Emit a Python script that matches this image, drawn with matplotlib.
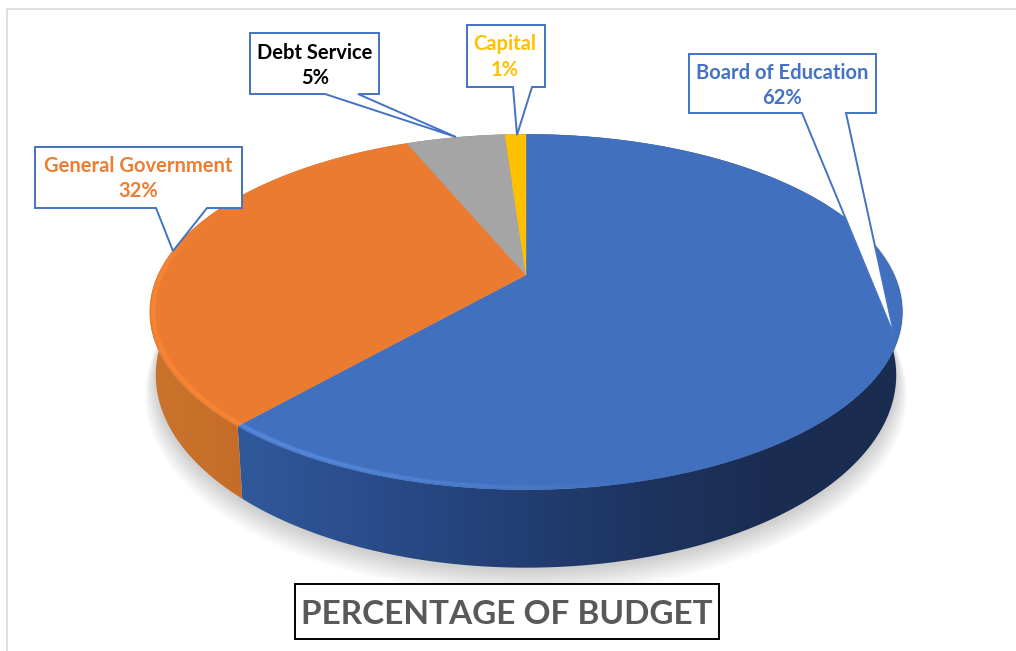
import numpy as np
import matplotlib
matplotlib.use('Agg')
import matplotlib.pyplot as plt
from matplotlib.collections import LineCollection
from matplotlib.colors import LinearSegmentedColormap, to_rgb
from matplotlib.patches import Polygon

plt.rcParams['font.family'] = ['Lato', 'DejaVu Sans']

# chart values, clockwise from the top
categories = ['Board of Education', 'General Government', 'Debt Service', 'Capital']
shares = [61.5, 32.2, 5.2, 1.1]
chart_title = 'PERCENTAGE OF BUDGET'

top_colors = ['#4170BF', '#EB7B30', '#A5A5A5', '#FFC000']
side_colors = [['#30599C', '#2A4C8A', '#233F75', '#1E3562', '#1A2C50', '#1A2C50'],
               ['#CA732C', '#BC6322'],
               ['#6E6E6E', '#6E6E6E'],
               ['#AA8000', '#AA8000']]
label_colors = ['#4472C4', '#ED7D31', '#000000', '#FFC000']

# layout in pixels: box left, top, right, bottom, tail base left/right, tail tip
callouts = [(689, 54, 876, 113, 802, 846, 895, 338),
            (35, 147, 242, 208, 156, 207, 173, 251),
            (250, 33, 379, 94, 325, 358, 456, 137),
            (467, 25, 545, 87, 513, 532, 517, 135)]
label_pos = [(782, 73, 98), (138, 166, 191), (315, 53, 78), (505, 44, 70)]

# perspective of the disc
CX, CY = 526, 275
A, B, K = 368, 170, 0.208
DEPTH, BOTTOM_X, BOTTOM_Y = 60, 0.984, 1.084


def project(t, r=1.0, drop=0, sx=1.0, sy=1.0):
    x = r * np.sin(t)
    y = r * np.cos(t)
    d = 1 + K * y
    return CX + A * sx * x / d, CY + drop - B * sy * y / d


fig = plt.figure(figsize=(10.16, 6.51), dpi=100)
ax = fig.add_axes([0, 0, 1, 1])
ax.set_xlim(0, 1016)
ax.set_ylim(651, 0)
ax.axis('off')

# frame, only left and top show
ax.plot([7, 7, 1016], [651, 9, 9], color='#D9D9D9', lw=1.2, zorder=1)

# soft shadow under the disc
full = np.linspace(0, 2 * np.pi, 361)
for i in range(16):
    grow = 1.0 + 0.002 * (15 - i)
    shx, shy = project(full, drop=DEPTH + 3 + 1.1 * (15 - i), sx=BOTTOM_X * grow, sy=BOTTOM_Y * grow)
    ax.fill(shx, shy, color='#000000', alpha=0.012, lw=0, zorder=2)

edges = np.radians(np.cumsum([0] + shares) * 3.6)

# side wall with a left to right gradient
for i in range(len(shares)):
    t = np.linspace(edges[i], edges[i + 1], 300)
    x_top, y_top = project(t)
    x_bot, y_bot = project(t, drop=DEPTH, sx=BOTTOM_X, sy=BOTTOM_Y)
    px = np.r_[x_top, x_bot[::-1]]
    py = np.r_[y_top, y_bot[::-1]]
    cmap = LinearSegmentedColormap.from_list('side', side_colors[i])
    img = ax.imshow(np.linspace(0, 1, 256)[None, :], cmap=cmap, aspect='auto',
                    extent=(px.min(), px.max(), py.max(), py.min()), zorder=3)
    img.set_clip_path(Polygon(np.c_[px, py], transform=ax.transData))
ax.set_xlim(0, 1016)
ax.set_ylim(651, 0)

# soft dark edge where top meets the wall on the right
for lw, al in [(3, 0.25), (1.6, 0.35)]:
    t = np.radians(np.linspace(72, 170, 200))
    ex, ey = project(t, r=0.997)
    ax.plot(ex, ey, color='#1A2C50', lw=lw, alpha=al, zorder=3.5)

# top of the disc
for i in range(len(shares)):
    t = np.linspace(edges[i], edges[i + 1], 300)
    x_top, y_top = project(t)
    ax.fill(np.r_[CX, x_top], np.r_[CY, y_top], color=top_colors[i], lw=0.3, zorder=4)

# bevel highlight along the front rim, a wide faint stroke under a narrow one
rim_t = np.radians(np.linspace(95, 292, 500))
rx, ry = project(rim_t, r=0.991)
pts = np.c_[rx, ry]
segs = np.stack([pts[:-1], pts[1:]], axis=1)
mid = np.degrees((rim_t[:-1] + rim_t[1:]) / 2)
split = np.degrees(edges[1])
for lw, strength in [(3.6, 0.35), (1.8, 0.5)]:
    rgba = np.zeros((len(mid), 4))
    for j, m in enumerate(mid):
        if m < split:
            rgba[j, :3] = to_rgb('#5F95EC')
            rgba[j, 3] = np.clip((m - 165) / 45, 0, 1) * strength
        else:
            rgba[j, :3] = to_rgb('#FF8C36')
            rgba[j, 3] = np.clip((292 - m) / 20, 0, 1) * strength
    ax.add_collection(LineCollection(segs, colors=rgba, linewidths=lw, zorder=5))

# callouts
for c, (lx, y1, y2), name, val, col in zip(callouts, label_pos, categories, shares, label_colors):
    x0, y0, x3, y3, b0, b1, tx, ty = c
    ax.add_patch(Polygon([(x0, y0), (x3, y0), (x3, y3), (b1, y3), (tx, ty), (b0, y3), (x0, y3)],
                         closed=True, fc='white', ec='#4472C4', lw=1.4, zorder=6))
    ax.text(lx, y1, name, color=col, fontsize=14.5, fontweight='bold',
            ha='center', va='center', zorder=7)
    ax.text(lx, y2, f'{round(val)}%', color=col, fontsize=14.5, fontweight='bold',
            ha='center', va='center', zorder=7)

# title box
ax.add_patch(Polygon([(295, 584), (719, 584), (719, 639), (295, 639)], closed=True,
                     fc='white', ec='black', lw=1.4, zorder=6))
ax.text(507, 614, chart_title, color='#595959', fontsize=24, fontweight='bold',
        ha='center', va='center', zorder=7)

fig.savefig('out.png', dpi=100)
